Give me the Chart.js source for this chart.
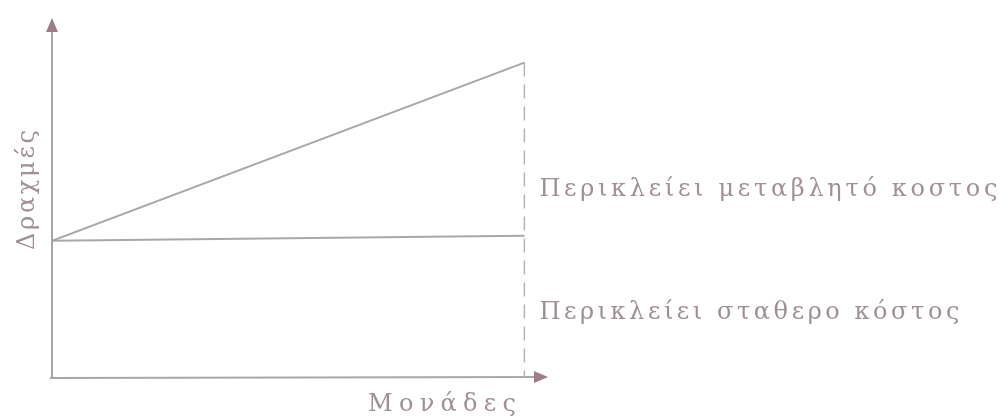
<!DOCTYPE html>
<html>
<head>
<meta charset="utf-8">
<script src="https://cdn.jsdelivr.net/npm/chart.js@4/dist/chart.umd.min.js"></script>
<style>
  html, body { margin: 0; padding: 0; background: #fff; }
  #wrap { width: 1003px; height: 419px; position: relative; }
</style>
</head>
<body>
<div id="wrap"><canvas id="costChart"></canvas></div>
<script>
// Units produced (x) against cost in drachmas (y)
const units = [0, 10];
const totalCost = [40, 92];     // fixed + variable
const fixedCost = [40, 41.5];   // fixed part only
const xMax = 10.5;
const yMax = 105;

const xTitle = 'Μονάδες';
const yTitle = 'Δραχμές';
const variableLabel = 'Περικλείει μεταβλητό κοστος';
const fixedLabel = 'Περικλείει σταθερο κόστος';
// y values where the two side notes sit
const noteValues = [55, 19];

const lineGrey = '#aaa6a8';
const textColor = '#a18f96';
const arrowColor = '#a07c89';
const textFont = '"DejaVu Serif", "Liberation Serif", serif';

const toPoints = (xs, ys) => xs.map((x, i) => ({ x: x, y: ys[i] }));

// draws the axes with arrow heads, the titles and the side notes
const annotate = {
    id: 'annotate',
    beforeDatasetsDraw(chart) {
        const ctx = chart.ctx;
        const xs = chart.scales.x, ys = chart.scales.y;
        const x0 = xs.getPixelForValue(0), y0 = ys.getPixelForValue(0);
        const xEnd = xs.getPixelForValue(xMax), yEnd = ys.getPixelForValue(yMax);

        ctx.save();
        ctx.strokeStyle = lineGrey;
        ctx.lineWidth = 2;
        ctx.beginPath();
        ctx.moveTo(x0, y0 + 1);
        ctx.lineTo(x0, yEnd + 10);
        ctx.moveTo(x0 - 2, y0);
        ctx.lineTo(xEnd - 10, y0 - 1);
        ctx.stroke();

        ctx.fillStyle = arrowColor;
        ctx.beginPath();
        ctx.moveTo(x0, yEnd);
        ctx.lineTo(x0 - 6, yEnd + 14);
        ctx.lineTo(x0 + 6, yEnd + 14);
        ctx.closePath();
        ctx.fill();
        ctx.beginPath();
        ctx.moveTo(xEnd, y0 - 1);
        ctx.lineTo(xEnd - 14, y0 - 7);
        ctx.lineTo(xEnd - 14, y0 + 5);
        ctx.closePath();
        ctx.fill();
        ctx.restore();
    },
    afterDraw(chart) {
        const ctx = chart.ctx;
        const xs = chart.scales.x, ys = chart.scales.y;
        const xRight = xs.getPixelForValue(units[1]);

        // spread a string so that it covers the given width
        const spaced = (text, x, y, width) => {
            ctx.letterSpacing = '0px';
            const w = ctx.measureText(text).width;
            const gap = Math.max(0, (width - w) / (text.length - 1));
            ctx.letterSpacing = gap + 'px';
            ctx.fillText(text, x, y);
            ctx.letterSpacing = '0px';
        };

        ctx.save();
        ctx.fillStyle = textColor;
        ctx.textBaseline = 'middle';
        ctx.textAlign = 'left';
        ctx.font = '24px ' + textFont;
        spaced(variableLabel, xRight + 15, ys.getPixelForValue(noteValues[0]), 458);
        spaced(fixedLabel, xRight + 15, ys.getPixelForValue(noteValues[1]), 420);

        spaced(xTitle, 368, 405, 148);

        ctx.translate(28, 190);
        ctx.rotate(-Math.PI / 2);
        spaced(yTitle, -60, 0, 120);
        ctx.restore();
    }
};

new Chart(document.getElementById('costChart'), {
    type: 'scatter',
    data: {
        datasets: [
            {
                label: 'Συνολικό κόστος',
                data: toPoints(units, totalCost),
                showLine: true,
                borderColor: lineGrey,
                borderWidth: 2,
                pointRadius: 0
            },
            {
                label: 'Σταθερό κόστος',
                data: toPoints(units, fixedCost),
                showLine: true,
                borderColor: lineGrey,
                borderWidth: 2,
                pointRadius: 0
            },
            {
                label: 'Όριο',
                data: toPoints([units[1], units[1]], [totalCost[1], 0]),
                showLine: true,
                borderColor: '#b8b4b6',
                borderWidth: 1.5,
                borderDash: [14, 8],
                pointRadius: 0
            }
        ]
    },
    options: {
        responsive: true,
        maintainAspectRatio: false,
        animation: false,
        layout: { padding: { left: 52, right: 455, top: 18, bottom: 41 } },
        scales: {
            x: { type: 'linear', min: 0, max: xMax, display: false },
            y: { min: 0, max: yMax, display: false }
        },
        plugins: {
            legend: { display: false },
            tooltip: { enabled: false }
        }
    },
    plugins: [annotate]
});
</script>
</body>
</html>
